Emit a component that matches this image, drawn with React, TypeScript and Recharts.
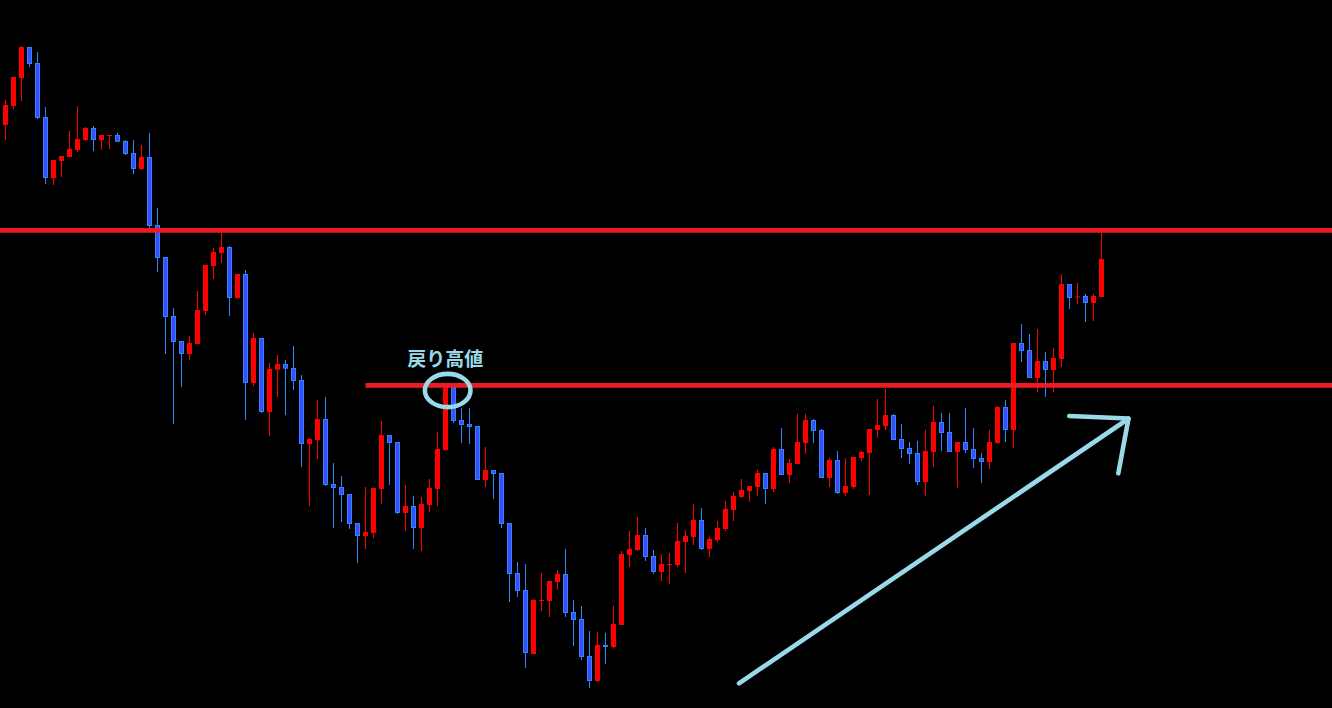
import React from 'react';
import { ComposedChart, Bar, XAxis, YAxis, ReferenceLine, ReferenceDot } from 'recharts';

// 値はチャート上の位置（上から）で読んだもの。Y軸は反転して使う
const opens = [
  125, 106, 78, 47, 63, 117, 178, 161, 157, 150, 140, 128, 140, 135.5, 135, 141, 153, 169, 157, 225,
  257, 316, 341, 354, 344, 311, 266, 253, 247, 298, 274, 383, 338, 412, 369.7, 364, 368, 380, 444, 440,
  419, 484, 487, 494, 523, 536, 533, 489, 435, 442, 513, 506, 528, 505, 489, 450, 387, 420, 424, 426,
  480, 470, 473, 523, 573, 590, 654, 600.5, 601, 582, 574, 612, 619, 656, 681, 645, 647, 625, 555, 550,
  535, 556, 572, 564.5, 565, 542, 537, 520, 549, 540, 529, 510, 497, 491, 487, 473, 489, 449, 475, 464,
  443, 420, 430, 478, 460, 493, 487, 458, 453, 430, 426, 415, 439, 448, 453, 482, 452, 422, 432, 452,
  442, 449, 458, 462, 443, 407, 430, 343, 350, 378, 361, 370, 359, 284, 297, 296, 303, 297,
];
const highs = [
  100, 77, 46, 47, 52, 107, 160, 156, 131, 106, 127, 126, 135, 135, 133, 140, 140, 145, 133, 208,
  257, 308, 341, 336, 291, 265, 248, 233, 246, 274, 270, 333, 338, 363, 355, 360, 346, 375, 438, 400,
  397, 463, 476, 494, 523, 487, 488, 421, 435, 442, 485, 496, 497, 479, 432, 384, 385, 408, 408, 426,
  447, 470, 473, 523, 562, 564, 599, 573, 581, 570, 549, 600, 606, 631, 632, 633, 606, 551, 531, 517,
  528, 550, 554, 553, 523, 530, 504, 508, 537, 521, 501, 492, 479, 486, 470, 473, 447, 428, 459, 414,
  414, 419, 429, 458, 451, 458, 457, 451, 429, 399, 389, 414, 424, 442, 441, 430, 406, 413, 413, 442,
  408, 428, 453, 430, 406, 400, 343, 324, 334, 329, 352, 348, 274, 284, 283, 294, 294, 233,
];
const lows = [
  140, 109, 101, 67, 119, 184, 185, 177, 157, 152, 141, 151, 150, 149, 142, 155, 174, 170, 228, 272,
  354, 424, 387, 360, 344, 315, 279, 263, 316, 299, 420, 386, 413, 436, 397, 415, 390, 467, 506, 459,
  486, 528, 522, 529, 563, 549, 538, 504, 485, 514, 531, 549, 551, 512, 506, 451, 423, 443, 444, 480,
  487, 499, 528, 602, 597, 668, 654, 611, 617, 590, 617, 646, 660, 688, 682, 664, 648, 625, 567, 551,
  561, 574, 581, 584, 567, 573, 545, 550, 557, 542, 531, 521, 498, 502, 496, 504, 492, 475, 483, 464,
  454, 443, 478, 487, 494, 496, 489, 461, 495, 438, 430, 440, 458, 464, 485, 496, 467, 451, 452, 488,
  453, 468, 483, 469, 444, 442, 448, 362, 378, 392, 397, 392, 367, 309, 304, 322, 321, 297,
];
const closes = [
  105, 77, 47, 64, 118, 178, 160, 156, 149, 139, 128, 140, 135, 135, 141.7, 154, 169, 157, 226, 258,
  317, 342, 354, 343, 310, 265, 252, 247, 298, 274, 383, 338, 412, 369, 364, 368.7, 381, 444, 439, 419,
  485, 488, 495, 524, 536, 532, 488, 435, 443, 513, 506, 528, 504, 488, 449, 385, 421, 425, 427, 480,
  470, 474, 524, 574, 591, 653, 600, 600, 581, 574, 613, 620, 657, 681, 645, 647, 624, 554, 549, 535,
  557, 572, 564, 564, 541, 536, 520, 549, 539, 528, 509, 496, 490, 486, 473, 489, 449, 475, 463, 442,
  420, 431, 478, 460, 493, 486, 457, 452, 429, 425, 415, 440, 449, 454, 482, 451, 422, 433, 452, 442,
  450, 459, 462, 442, 407, 430, 343, 351, 378, 361, 370, 358, 284, 298, 296.5, 303, 296, 259,
];

const resistanceTop = 230.3;
const pullbackHigh = 385.3;
const label = '戻り高値';

const candles = opens.map((o, i) => ({
  i,
  o,
  h: highs[i],
  l: lows[i],
  c: closes[i],
  range: [highs[i], lows[i]],
}));

const RED = '#ff0000';
const BLUE_FILL = '#3a4dff';
const BLUE_LINE = '#2e86ff';
const PAINT_RED = '#ed1c24';
const TURQ = '#99d9ea';

const Candle = (props: any) => {
  const { x, y, width, height, payload } = props;
  if (payload == null || x == null) return null;
  const top = Math.min(y, y + height);
  const span = Math.abs(height);
  const ppu = span / (payload.l - payload.h || 1);
  const cx = Math.round(x + width / 2) + 0.5;
  const up = payload.c <= payload.o; // 反転軸：小さいほど上
  const bTop = top + (Math.min(payload.o, payload.c) - payload.h) * ppu;
  const bBot = top + (Math.max(payload.o, payload.c) - payload.h) * ppu;
  const bh = Math.max(bBot - bTop, 1);
  const wick = up ? RED : BLUE_LINE;
  return (
    <g>
      <line x1={cx} x2={cx} y1={top} y2={top + span} stroke={wick} strokeWidth={1} />
      {up ? (
        <rect x={cx - 2.5} y={bTop} width={5} height={bh} fill={RED} />
      ) : (
        <rect x={cx - 2} y={bTop + 0.5} width={4} height={Math.max(bh - 1, 0.5)} fill={BLUE_FILL} stroke={BLUE_LINE} strokeWidth={1} />
      )}
    </g>
  );
};

// ピクセル位置 → x軸の値（1本 = 8px, 先頭の足の中心 = 5.33px）
const px = (p: number) => (p - 5.333) / 8;

export default function App() {
  return (
    <div style={{ position: 'absolute', left: 0, top: 0, width: 1332, height: 708, background: '#000' }}>
      <ComposedChart width={1332} height={708} data={candles} margin={{ top: 0, right: 0, bottom: 0, left: 0 }}>
        <XAxis dataKey="i" type="number" domain={[px(0), px(1332)]} allowDataOverflow hide />
        <YAxis type="number" domain={[0, 708]} reversed allowDataOverflow hide />
        <ReferenceLine y={resistanceTop} stroke={PAINT_RED} strokeWidth={4.7} />
        <ReferenceLine
          segment={[{ x: px(365.5), y: pullbackHigh }, { x: px(1332), y: pullbackHigh }]}
          stroke={PAINT_RED}
          strokeWidth={4.7}
        />
        <Bar dataKey="range" barSize={5} isAnimationActive={false} shape={(p: any) => <Candle {...p} />} />
        <ReferenceDot
          x={px(447.7)}
          y={390.5}
          r={1}
          shape={(p: any) => (
            <ellipse cx={p.cx} cy={p.cy} rx={22.8} ry={16.6} fill="none" stroke={TURQ} strokeWidth={4.6} />
          )}
        />
        <ReferenceDot
          x={px(445.3)}
          y={357}
          r={1}
          shape={(p: any) => (
            <text
              x={p.cx}
              y={p.cy}
              textAnchor="middle"
              dominantBaseline="central"
              fill={TURQ}
              fontSize={19}
              fontWeight="bold"
              fontFamily="'Noto Sans CJK JP', sans-serif"
            >
              {label}
            </text>
          )}
        />
        <ReferenceLine
          segment={[{ x: px(739), y: 683.3 }, { x: px(1128), y: 419 }]}
          stroke={TURQ}
          strokeWidth={4.6}
          strokeLinecap="round"
        />
        <ReferenceLine
          segment={[{ x: px(1069.3), y: 416 }, { x: px(1128.5), y: 418.5 }]}
          stroke={TURQ}
          strokeWidth={4.6}
          strokeLinecap="round"
        />
        <ReferenceLine
          segment={[{ x: px(1128.5), y: 418.5 }, { x: px(1118.3), y: 473.3 }]}
          stroke={TURQ}
          strokeWidth={4.6}
          strokeLinecap="round"
        />
      </ComposedChart>
    </div>
  );
}
